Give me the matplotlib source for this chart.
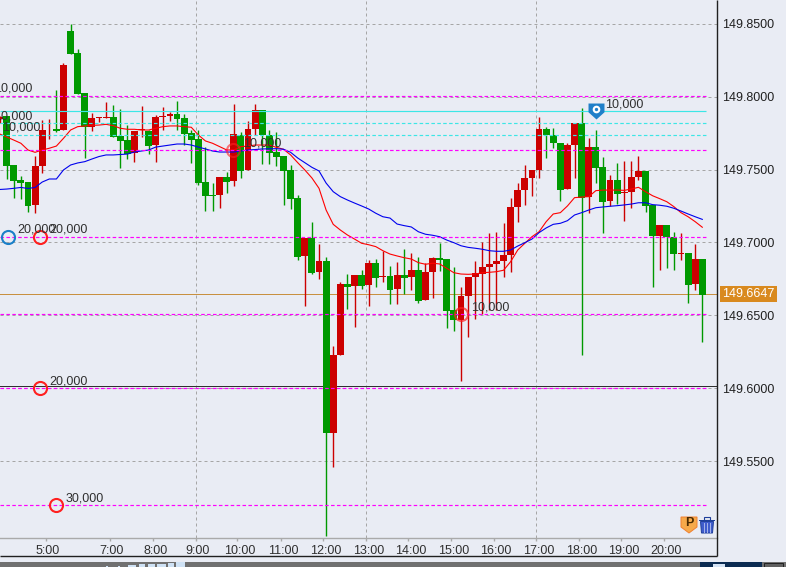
import numpy as np
import matplotlib
matplotlib.use("Agg")
import matplotlib.pyplot as plt
from matplotlib.patches import Rectangle, Polygon
from matplotlib.path import Path
from matplotlib.transforms import ScaledTranslation

plt.rcParams['font.family'] = ['Liberation Sans', 'DejaVu Sans']

# candle data, 10 minute bars
opens = [149.7844, 149.7867, 149.7531, 149.7428, 149.7414, 149.7256, 149.7526, 149.7775, 149.7778, 149.7771,
         149.8450, 149.8299, 149.8025, 149.7794, 149.7855, 149.7855, 149.7860, 149.7730, 149.7702, 149.7611,
         149.7768, 149.7766, 149.7668, 149.7860, 149.7869, 149.7880, 149.7853, 149.7750, 149.7709, 149.7414,
         149.7325, 149.7325, 149.7448, 149.7421, 149.7736, 149.7498, 149.7777, 149.7908, 149.7736, 149.7620,
         149.7592, 149.7496, 149.7304, 149.6906, 149.7030, 149.6796, 149.6872, 149.5695, 149.6227, 149.6714,
         149.6700, 149.6776, 149.6707, 149.6858, 149.6762, 149.6769, 149.6680, 149.6776, 149.6762, 149.6810,
         149.6604, 149.6796, 149.6892, 149.6885, 149.6536, 149.6467, 149.6632, 149.6762, 149.6783, 149.6831,
         149.6851, 149.6872, 149.6913, 149.7242, 149.7359, 149.7441, 149.7496, 149.7777, 149.7734, 149.7679,
         149.7366, 149.7668, 149.7819, 149.7311, 149.7654, 149.7517, 149.7283, 149.7428, 149.7338, 149.7345,
         149.7448, 149.7489, 149.7256, 149.7043, 149.7119, 149.7036, 149.6920, 149.6927, 149.6714, 149.6885]
highs = [149.7867, 149.7867, 149.7531, 149.7455, 149.7414, 149.7592, 149.7839, 149.7846, 149.8045, 149.8228,
         149.8498, 149.8326, 149.8025, 149.7885, 149.7860, 149.7960, 149.7942, 149.7915, 149.7805, 149.7764,
         149.7935, 149.7771, 149.7874, 149.7928, 149.7896, 149.7970, 149.7880, 149.7771, 149.7768, 149.7656,
         149.7409, 149.7448, 149.7483, 149.7949, 149.7757, 149.7832, 149.7949, 149.7908, 149.7771, 149.7757,
         149.7592, 149.7530, 149.7325, 149.7030, 149.7139, 149.6988, 149.6899, 149.6289, 149.6728, 149.6783,
         149.6776, 149.6810, 149.6879, 149.6885, 149.6940, 149.6837, 149.6865, 149.6954, 149.6927, 149.6899,
         149.6856, 149.6899, 149.6995, 149.6885, 149.6831, 149.6693, 149.6762, 149.6869, 149.7002, 149.7062,
         149.7071, 149.7132, 149.7304, 149.7407, 149.7530, 149.7496, 149.7860, 149.7791, 149.7784, 149.7679,
         149.7679, 149.7819, 149.7922, 149.7716, 149.7771, 149.7585, 149.7462, 149.7544, 149.7558, 149.7558,
         149.7592, 149.7489, 149.7256, 149.7119, 149.7119, 149.7071, 149.7064, 149.6927, 149.6988, 149.6885]
lows = [149.7816, 149.7434, 149.7302, 149.7295, 149.7206, 149.7199, 149.7478, 149.7709, 149.7759, 149.7771,
        149.8294, 149.8020, 149.7581, 149.7766, 149.7826, 149.7855, 149.7725, 149.7512, 149.7572, 149.7553,
        149.7725, 149.7606, 149.7553, 149.7771, 149.7832, 149.7771, 149.7668, 149.7547, 149.7393, 149.7215,
        149.7215, 149.7236, 149.7338, 149.7386, 149.7444, 149.7496, 149.7736, 149.7537, 149.7537, 149.7524,
        149.7256, 149.7229, 149.6879, 149.6563, 149.6783, 149.6748, 149.4988, 149.5461, 149.6227, 149.6542,
        149.6419, 149.6680, 149.6563, 149.6693, 149.6728, 149.6577, 149.6577, 149.6645, 149.6673, 149.6584,
        149.6604, 149.6618, 149.6803, 149.6412, 149.6391, 149.6048, 149.6350, 149.6474, 149.6508, 149.6536,
        149.6536, 149.6764, 149.6796, 149.7139, 149.7256, 149.7318, 149.7441, 149.7578, 149.7647, 149.7283,
        149.7366, 149.7441, 149.6227, 149.7201, 149.7407, 149.7064, 149.7249, 149.7263, 149.7146, 149.7235,
        149.7428, 149.7208, 149.6693, 149.6810, 149.6824, 149.6810, 149.6879, 149.6584, 149.6673, 149.6316]
closes = [149.7862, 149.7526, 149.7421, 149.7407, 149.7252, 149.7524, 149.7771, 149.7778, 149.7766, 149.8217,
          149.8294, 149.8020, 149.7789, 149.7853, 149.7860, 149.7860, 149.7725, 149.7697, 149.7606, 149.7764,
          149.7778, 149.7661, 149.7860, 149.7864, 149.7880, 149.7846, 149.7743, 149.7702, 149.7407, 149.7320,
          149.7318, 149.7448, 149.7414, 149.7743, 149.7492, 149.7777, 149.7908, 149.7736, 149.7613, 149.7588,
          149.7492, 149.7297, 149.6901, 149.7030, 149.6789, 149.6872, 149.5690, 149.6227, 149.6714, 149.6693,
          149.6776, 149.6700, 149.6858, 149.6755, 149.6769, 149.6673, 149.6776, 149.6755, 149.6810, 149.6597,
          149.6796, 149.6892, 149.6879, 149.6529, 149.6467, 149.6632, 149.6762, 149.6789, 149.6831, 149.6851,
          149.6872, 149.6913, 149.7242, 149.7359, 149.7441, 149.7496, 149.7777, 149.7734, 149.7679, 149.7359,
          149.7668, 149.7819, 149.7304, 149.7654, 149.7510, 149.7277, 149.7428, 149.7331, 149.7345, 149.7448,
          149.7489, 149.7249, 149.7043, 149.7119, 149.7036, 149.6920, 149.6927, 149.6707, 149.6885, 149.6638]

# moving averages
ma_fast = [149.7744, 149.7723, 149.7702, 149.7680, 149.7634, 149.7618, 149.7634, 149.7646, 149.7661, 149.7714,
           149.7771, 149.7794, 149.7799, 149.7803, 149.7805, 149.7810, 149.7801, 149.7783, 149.7776, 149.7776,
           149.7771, 149.7771, 149.7783, 149.7794, 149.7799, 149.7799, 149.7794, 149.7790, 149.7737, 149.7696,
           149.7680, 149.7657, 149.7634, 149.7634, 149.7657, 149.7661, 149.7668, 149.7668, 149.7668, 149.7652,
           149.7639, 149.7600, 149.7547, 149.7497, 149.7442, 149.7371, 149.7222, 149.7124, 149.7085, 149.7051,
           149.7023, 149.6994, 149.6984, 149.6971, 149.6943, 149.6920, 149.6907, 149.6895, 149.6886, 149.6861,
           149.6850, 149.6857, 149.6852, 149.6822, 149.6792, 149.6783, 149.6781, 149.6783, 149.6792, 149.6795,
           149.6799, 149.6809, 149.6868, 149.6948, 149.6994, 149.7039, 149.7073, 149.7142, 149.7195, 149.7204,
           149.7250, 149.7307, 149.7311, 149.7314, 149.7355, 149.7359, 149.7359, 149.7359, 149.7357, 149.7366,
           149.7378, 149.7348, 149.7320, 149.7300, 149.7279, 149.7245, 149.7204, 149.7176, 149.7142, 149.7104]
ma_slow = [149.7363, 149.7366, 149.7371, 149.7377, 149.7370, 149.7377, 149.7414, 149.7435, 149.7435, 149.7497,
           149.7531, 149.7545, 149.7554, 149.7572, 149.7589, 149.7600, 149.7600, 149.7603, 149.7606, 149.7620,
           149.7627, 149.7634, 149.7654, 149.7661, 149.7668, 149.7675, 149.7675, 149.7668, 149.7654, 149.7641,
           149.7627, 149.7620, 149.7620, 149.7620, 149.7627, 149.7634, 149.7637, 149.7641, 149.7642, 149.7643,
           149.7639, 149.7618, 149.7579, 149.7547, 149.7515, 149.7490, 149.7407, 149.7348, 149.7314, 149.7291,
           149.7270, 149.7250, 149.7229, 149.7200, 149.7176, 149.7167, 149.7126, 149.7115, 149.7106, 149.7073,
           149.7056, 149.7049, 149.7039, 149.7016, 149.6998, 149.6977, 149.6966, 149.6960, 149.6953, 149.6943,
           149.6939, 149.6939, 149.6948, 149.6975, 149.6998, 149.7023, 149.7067, 149.7099, 149.7124, 149.7131,
           149.7149, 149.7188, 149.7204, 149.7222, 149.7238, 149.7243, 149.7248, 149.7252, 149.7257, 149.7263,
           149.7272, 149.7272, 149.7259, 149.7255, 149.7248, 149.7234, 149.7215, 149.7195, 149.7176, 149.7158]

last_price = 149.6647
order_levels = [149.8006, 149.7632, 149.7039, 149.6507, 149.5999, 149.5197]
stop_level = 149.7899
limit_levels = [149.7817, 149.7735]
black_level = 149.6017

y_ticks = [149.85, 149.80, 149.75, 149.70, 149.65, 149.60, 149.55]
hour_ticks = [6.5, 15.5, 21.6, 27.6, 33.5, 39.6, 45.6, 51.6, 57.6, 63.6, 69.6, 75.6, 81.6, 87.6, 93.6]
hour_labels = ['5:00', '7:00', '8:00', '9:00', '10:00', '11:00', '12:00', '13:00', '14:00',
               '15:00', '16:00', '17:00', '18:00', '19:00', '20:00']
hour_grid = [27.6, 51.6, 75.6]

# fills on the chart: bar, price, size, colour, alpha
fill_x = [5.69, 1.18, 5.69, 7.95, 32.88, 65.0]
fill_y = [149.7039, 149.7039, 149.5999, 149.5197, 149.7632, 149.6507]
fill_size = ['20,000', '20,000', '20,000', '30,000', '10,000', '10,000']
fill_color = ['#ff2020', '#1a7fc8', '#ff2020', '#ff2020', '#ff2020', '#ff2020']
fill_alpha = [1, 1, 1, 1, 0.6, 0.7]

# labels cut off by the left edge
edge_y = [149.8059, 149.7862, 149.7785]
edge_x = [-0.85, -0.85, 0.33]

bg = '#e9ecf4'
up = '#cc0000'
down = '#009900'
grid = '#a6a6a6'
px = 0.72  # one pixel in points

fig = plt.figure(figsize=(7.86, 5.67), dpi=100, facecolor=bg)
W, H = 786.0, 567.0
ax = fig.add_axes([0, (H - 538) / H, 717 / W, 538 / H], facecolor=bg)

x = np.arange(len(opens))
opens = np.array(opens)
closes = np.array(closes)
colors = [up if c >= o else down for o, c in zip(opens, closes)]

# grid
for v in y_ticks:
    ax.axhline(v, color=grid, lw=px, ls=(0, (3, 3)), zorder=1)
for v in hour_grid:
    ax.axvline(v, color=grid, lw=px, ls=(0, (3, 3)), zorder=1)

ax.axhline(last_price, color='#c89040', lw=px, zorder=1.5)
ax.axhline(black_level, color='#303030', lw=px, zorder=1.5)

# candles
ax.vlines(x, lows, highs, colors=colors, lw=1.0, zorder=2)
ax.bar(x, np.abs(closes - opens), bottom=np.minimum(opens, closes), width=0.97, color=colors, lw=0, zorder=3)

ax.plot(x, ma_fast, color='#ff0000', lw=0.8, zorder=4)
ax.plot(x, ma_slow, color='#0000ee', lw=0.8, zorder=4)

# order lines stop short of the axis
line_end = 99.45
x0 = 0.056
ax.hlines(order_levels, x0, line_end, color='#ff00ff', lw=0.85, ls=(0, (3, 2)), zorder=5)
ax.hlines(stop_level, x0, line_end, color='#3ce6e6', lw=0.85, zorder=5)
ax.hlines(limit_levels, x0, line_end, color='#3ce6e6', lw=0.85, ls=(0, (3, 2)), zorder=5)

for xi, yi, s, c, a in zip(fill_x, fill_y, fill_size, fill_color, fill_alpha):
    ax.plot([xi], [yi], marker='o', ms=9.4, mfc='none', mec=c, mew=1.5, alpha=a, zorder=6, clip_on=False)
    ax.annotate(s, (xi, yi), xytext=(7, 5), textcoords='offset points', fontsize=9, color='#303030',
                va='center', zorder=7)

for xi, yi in zip(edge_x, edge_y):
    ax.annotate('10,000', (xi, yi), fontsize=9, color='#303030', va='center', zorder=7, annotation_clip=False)

# blue position pin
pin = Path([(-1, 1), (1, 1), (1, -0.1), (0, -1), (-1, -0.1), (-1, 1)], closed=True)
ax.plot([84.0], [stop_level], marker=pin, ms=11.5, color='#1f7fc9', mew=0, ls='none', zorder=8)
ax.plot([84.0], [stop_level + 0.0017], marker='o', ms=5.5, color='white', mew=0, zorder=9)
ax.plot([84.0], [stop_level + 0.0017], marker='o', ms=2.4, color='#1f7fc9', mew=0, zorder=10)
ax.annotate('10,000', (84.0, stop_level), xytext=(6.5, 5), textcoords='offset points', fontsize=9,
            color='#303030', va='center', zorder=7)

ax.set_xlim(x0, 101.07)
ax.set_ylim(149.4972, 149.8663)

for s in ['top', 'left', 'right']:
    ax.spines[s].set_visible(False)
ax.spines['bottom'].set_color('#aaaaaa')
ax.spines['bottom'].set_linewidth(1.0)

ax.yaxis.tick_right()
ax.set_yticks(y_ticks)
ax.set_yticklabels(['%.4f' % v for v in y_ticks])
ax.tick_params(axis='y', length=0, pad=4.0, labelsize=9, labelcolor='#202020')
ax.set_xticks(hour_ticks)
ax.set_xticklabels(hour_labels)
ax.tick_params(axis='x', length=2.2, width=1.0, color='#aaaaaa', pad=2.5, labelsize=9, labelcolor='#303030')
shift = ScaledTranslation(2.4 / 100, 0, fig.dpi_scale_trans)
for lab in ax.get_xticklabels():
    lab.set_transform(lab.get_transform() + shift)

# current price tag
ax.annotate('%.4f' % last_price, xy=(1, last_price), xycoords=ax.get_yaxis_transform(),
            xytext=(4.0, 0), textcoords='offset points', fontsize=9, color='white', va='center', ha='left',
            bbox=dict(boxstyle='square,pad=0.17', fc='#d98a1f', ec='none'), annotation_clip=False, zorder=10)

# window chrome, drawn in screen pixels
ui = fig.add_axes([0, 0, 1, 1], facecolor='none')
ui.set_xlim(0, W)
ui.set_ylim(H, 0)
ui.axis('off')
ui.plot([717, 717], [0, 555.5], color='#202020', lw=1.0, solid_capstyle='butt')
ui.plot([0, 717], [555.5, 555.5], color='#202020', lw=1.0, solid_capstyle='butt')
ui.add_patch(Rectangle((0, 562), W, 5, fc='#707070', ec='none'))
ui.add_patch(Rectangle((700, 562), 62, 5, fc='#0c2c52', ec='none'))
ui.add_patch(Rectangle((713, 564), 12, 3, fc='#d5e4f5', ec='none'))
ui.add_patch(Rectangle((764, 562.5), 19, 5, fc='#606060', ec='#202020', lw=0.7))
for bx, bw, bh in [(106, 2, 1), (118, 2, 1), (128, 8, 2), (139, 6, 3), (148, 7, 3), (157, 9, 3), (168, 6, 4), (176, 9, 5)]:
    ui.add_patch(Rectangle((bx, 567 - bh), bw, bh, fc='#cfe2f5', ec='none'))

# P badge
ui.add_patch(Polygon([(681, 517), (697, 517), (697, 527), (689, 533), (681, 527)], fc='#f6a94a', ec='#f08030', lw=0.7))
ui.text(689, 523.5, 'P', fontsize=9, fontweight='bold', color='#4a2a00', ha='center', va='center')
# trash can
ui.add_patch(Rectangle((699, 519.5), 16, 1.8, fc='#1f3f9a', ec='none'))
ui.add_patch(Rectangle((704, 517), 6, 2.5, fc='none', ec='#1f3f9a', lw=0.8))
ui.add_patch(Polygon([(700.5, 521.5), (713.5, 521.5), (712.5, 533), (701.5, 533)], fc='#3f5ccc', ec='#1f3f9a', lw=0.7))
for tx in [704, 707, 710]:
    ui.plot([tx, tx], [523, 532], color='#a8b4ea', lw=0.7)

fig.savefig('out.png', dpi=100, facecolor=bg)
